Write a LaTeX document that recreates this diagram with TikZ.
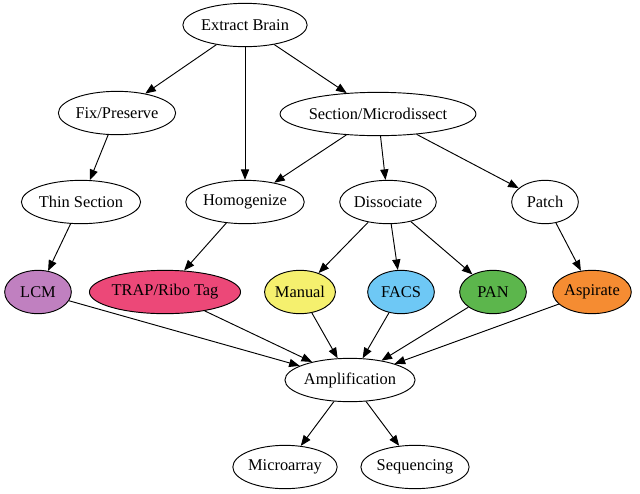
\documentclass[tikz,border=0pt]{standalone}
\usepackage{fontspec}
\setmainfont{Liberation Serif}
\usepackage{tikz}
\usetikzlibrary{arrows.meta}
\usetikzlibrary{shapes.geometric}
\definecolor{lcmcol}{RGB}{192,128,192}
\definecolor{trapcol}{RGB}{236,72,120}
\definecolor{mancol}{RGB}{245,240,110}
\definecolor{facscol}{RGB}{110,200,245}
\definecolor{pancol}{RGB}{92,182,76}
\definecolor{aspcol}{RGB}{245,140,50}
\tikzset{stepnode/.style={ellipse, draw, line width=0.8pt, fill=white,
    inner xsep=0pt, inner ysep=0pt, minimum width=2cm, minimum height=1.3cm,
    font=\fontsize{14}{16}\selectfont},
  flow/.style={-{Triangle[length=9pt,width=7pt]}, line width=0.8pt}}

\begin{document}
\begin{tikzpicture}[x=0.03cm, y=-0.03cm]
  \useasboundingbox (0,0) rectangle (640,493);
  % top
  \node[stepnode] (brain) at (245,25) {Extract Brain};
  \node[stepnode] (fix) at (117,113) {Fix/Preserve};
  \node[stepnode] (sect) at (378,114) {Section/Microdissect};
  % middle
  \node[stepnode] (thin) at (81,202) {Thin Section};
  \node[stepnode] (homog) at (245,202) {Homogenize};
  \node[stepnode] (dissoc) at (388,202) {Dissociate};
  \node[stepnode] (patch) at (545,202) {Patch};
  % methods
  \node[stepnode, fill=lcmcol] (lcm) at (38,292) {LCM};
  \node[stepnode, fill=trapcol] (trap) at (165,292) {TRAP/Ribo Tag};
  \node[stepnode, fill=mancol] (manual) at (300,292) {Manual};
  \node[stepnode, fill=facscol] (facs) at (401,292) {FACS};
  \node[stepnode, fill=pancol] (pan) at (493,292) {PAN};
  \node[stepnode, fill=aspcol] (asp) at (592,292) {Aspirate};
  % bottom
  \node[stepnode] (amp) at (350,380) {Amplification};
  \node[stepnode] (array) at (285,467) {Microarray};
  \node[stepnode] (seq) at (415,467) {Sequencing};

  \foreach \a/\b in {brain/fix, brain/homog, brain/sect, fix/thin,
      sect/homog, sect/dissoc, sect/patch, thin/lcm, homog/trap,
      dissoc/manual, dissoc/facs, dissoc/pan, patch/asp,
      lcm/amp, trap/amp, manual/amp, facs/amp, pan/amp, asp/amp,
      amp/array, amp/seq}
    \draw[flow] (\a) -- (\b);
\end{tikzpicture}
\end{document}
